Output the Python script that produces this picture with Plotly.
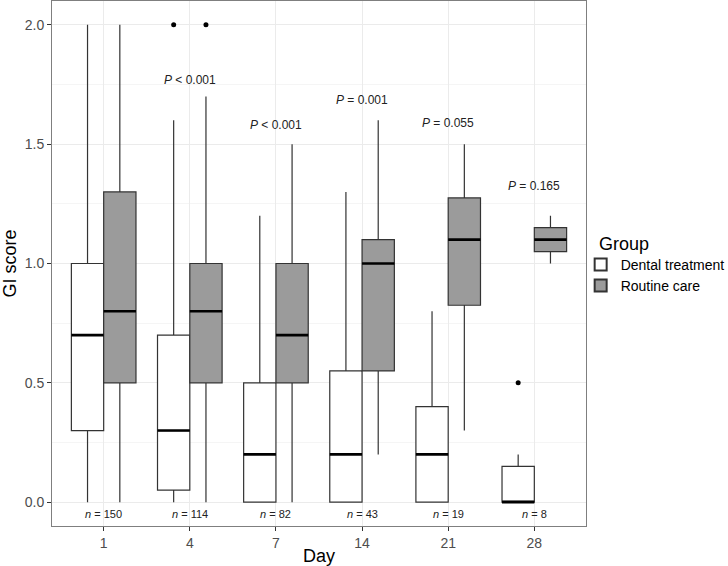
import plotly.graph_objects as go

days = ["1", "4", "7", "14", "21", "28"]
groups = ["Dental treatment", "Routine care"]

# Box statistics per day: [Dental treatment, Routine care]
dental_low = [0.0, 0.0, 0.0, 0.0, 0.0, 0.0]
dental_q1 = [0.3, 0.05, 0.0, 0.0, 0.0, 0.0]
dental_med = [0.7, 0.3, 0.2, 0.2, 0.2, 0.0]
dental_q3 = [1.0, 0.7, 0.5, 0.55, 0.4, 0.15]
dental_high = [2.0, 1.6, 1.2, 1.3, 0.8, 0.2]

routine_low = [0.0, 0.0, 0.0, 0.2, 0.3, 1.0]
routine_q1 = [0.5, 0.5, 0.5, 0.55, 0.825, 1.05]
routine_med = [0.8, 0.8, 0.7, 1.0, 1.1, 1.1]
routine_q3 = [1.3, 1.0, 1.0, 1.1, 1.275, 1.15]
routine_high = [2.0, 1.7, 1.5, 1.6, 1.5, 1.2]

# Outliers (day, group index, value)
outlier_day = ["4", "4", "28"]
outlier_group = [0, 1, 0]
outlier_val = [2.0, 2.0, 0.5]

p_labels = ["", "<i>P</i> < 0.001", "<i>P</i> < 0.001", "<i>P</i> = 0.001", "<i>P</i> = 0.055", "<i>P</i> = 0.165"]
p_y = [None, 1.77, 1.58, 1.685, 1.59, 1.325]
n_labels = ["150", "114", "82", "43", "19", "8"]

fills = ["#ffffff", "#9b9b9b"]
line_col = "#333333"
box_w = 0.375
offsets = [-box_w / 2, box_w / 2]

fig = go.Figure()
stats = [
    (dental_low, dental_q1, dental_med, dental_q3, dental_high),
    (routine_low, routine_q1, routine_med, routine_q3, routine_high),
]
for g, (lo, q1, med, q3, hi) in enumerate(stats):
    xs = [i + offsets[g] for i in range(len(days))]
    fig.add_trace(go.Box(
        x=xs, q1=q1, median=med, q3=q3, lowerfence=lo, upperfence=hi,
        width=box_w, name=groups[g], fillcolor=fills[g],
        line=dict(color=line_col, width=1.2), whiskerwidth=0,
        boxpoints=False, showlegend=True,
    ))
    mx, my = [], []
    for x, m in zip(xs, med):
        mx += [x - box_w / 2, x + box_w / 2, None]
        my += [m, m, None]
    fig.add_trace(go.Scatter(x=mx, y=my, mode="lines",
                             line=dict(color="black", width=2.6),
                             showlegend=False, hoverinfo="skip"))

ox = [days.index(d) + offsets[g] for d, g in zip(outlier_day, outlier_group)]
fig.add_trace(go.Scatter(x=ox, y=outlier_val, mode="markers",
                         marker=dict(color="black", size=5),
                         showlegend=False, hoverinfo="skip"))

for i in range(len(days)):
    if p_labels[i]:
        fig.add_annotation(x=i, y=p_y[i], text=p_labels[i], showarrow=False,
                           font=dict(size=12, color="#222222"))
    fig.add_annotation(x=i, y=-0.05, text="<i>n</i> = " + n_labels[i], showarrow=False,
                       font=dict(size=11, color="#222222"))

# legend title as text
fig.add_annotation(xref="paper", yref="paper", x=1.02, y=0.515, xanchor="left", yanchor="bottom",
                   text="Group", showarrow=False, font=dict(size=18, color="black"))

font = "Liberation Sans, Arial, sans-serif"
fig.update_layout(
    width=728, height=566,
    margin=dict(l=52, r=142, t=1, b=40, autoexpand=False),
    paper_bgcolor="white", plot_bgcolor="white",
    font=dict(family=font, color="black"),
    boxmode="overlay",
    xaxis=dict(
        range=[-0.6, 5.6], tickmode="array", tickvals=list(range(len(days))), ticktext=days,
        showgrid=True, gridcolor="#ebebeb", gridwidth=1, zeroline=False,
        showline=True, mirror=True, linecolor="#7f7f7f", linewidth=1,
        ticks="outside", ticklen=4, tickcolor="#333333", automargin=False,
        tickfont=dict(size=14, color="#4d4d4d"),
        title=dict(text="Day", font=dict(size=18, color="black"), standoff=2),
    ),
    yaxis=dict(
        range=[-0.1, 2.1], tickmode="array", tickvals=[0, 0.5, 1.0, 1.5, 2.0],
        ticktext=["0.0", "0.5", "1.0", "1.5", "2.0"],
        showgrid=True, gridcolor="#ebebeb", gridwidth=1, zeroline=False,
        minor=dict(tickmode="array", tickvals=[0.25, 0.75, 1.25, 1.75], showgrid=True,
                   gridcolor="#f5f5f5", gridwidth=1, ticks=""),
        showline=True, mirror=True, linecolor="#7f7f7f", linewidth=1,
        ticks="outside", ticklen=4, tickcolor="#333333", automargin=False,
        tickfont=dict(size=14, color="#4d4d4d"),
        title=dict(text="GI score", font=dict(size=18, color="black"), standoff=6),
    ),
    legend=dict(
        font=dict(size=14), x=0.99, xanchor="left", y=0.528, yanchor="top",
        tracegroupgap=0, itemsizing="constant", itemwidth=30,
        bgcolor="rgba(0,0,0,0)",
    ),
)

fig.write_html("out.html", config={"displayModeBar": False},
               post_script="document.body.style.margin='0px';document.body.style.overflow='hidden';")
